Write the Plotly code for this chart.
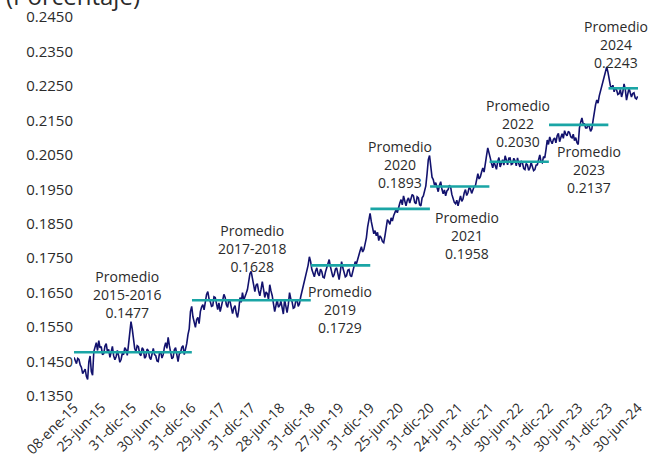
import pandas as pd
import plotly.graph_objects as go

# Weekly-ish readings of the rate, one list per calendar year
rate_2015 = [0.1462, 0.1450, 0.1444, 0.1459, 0.1456, 0.1440, 0.1433, 0.1415, 0.1421, 0.1428, 0.1407, 0.1398,
             0.1450, 0.1466, 0.1421, 0.1410, 0.1479, 0.1496, 0.1505, 0.1482, 0.1511, 0.1490, 0.1493, 0.1470,
             0.1473, 0.1495, 0.1502, 0.1478, 0.1485, 0.1462, 0.1479, 0.1494, 0.1467, 0.1455, 0.1464, 0.1482,
             0.1467, 0.1448, 0.1456, 0.1474, 0.1470, 0.1490, 0.1485, 0.1468, 0.1499, 0.1530, 0.1566, 0.1545]
rate_2016 = [0.1510, 0.1488, 0.1479, 0.1496, 0.1493, 0.1472, 0.1467, 0.1490, 0.1485, 0.1460, 0.1464, 0.1486,
             0.1482, 0.1462, 0.1456, 0.1478, 0.1488, 0.1470, 0.1467, 0.1452, 0.1450, 0.1474, 0.1479, 0.1460,
             0.1470, 0.1492, 0.1505, 0.1488, 0.1520, 0.1496, 0.1479, 0.1458, 0.1462, 0.1484, 0.1490, 0.1466,
             0.1450, 0.1472, 0.1476, 0.1491, 0.1496, 0.1470, 0.1485, 0.1502, 0.1528, 0.1545, 0.1595, 0.1610]
rate_2017 = [0.1580, 0.1562, 0.1549, 0.1572, 0.1578, 0.1560, 0.1595, 0.1608, 0.1615, 0.1600, 0.1630, 0.1645,
             0.1653, 0.1632, 0.1624, 0.1610, 0.1612, 0.1638, 0.1636, 0.1612, 0.1601, 0.1620, 0.1595, 0.1610,
             0.1624, 0.1645, 0.1636, 0.1615, 0.1607, 0.1630, 0.1624, 0.1600, 0.1589, 0.1605, 0.1612, 0.1590,
             0.1578, 0.1600, 0.1636, 0.1622, 0.1650, 0.1628, 0.1636, 0.1648, 0.1659, 0.1685, 0.1705, 0.1712]
rate_2018 = [0.1688, 0.1668, 0.1653, 0.1672, 0.1676, 0.1655, 0.1641, 0.1660, 0.1682, 0.1660, 0.1636, 0.1652,
             0.1647, 0.1630, 0.1673, 0.1655, 0.1641, 0.1618, 0.1595, 0.1612, 0.1630, 0.1608, 0.1612, 0.1625,
             0.1601, 0.1588, 0.1630, 0.1612, 0.1592, 0.1615, 0.1650, 0.1632, 0.1624, 0.1605, 0.1607, 0.1625,
             0.1630, 0.1610, 0.1618, 0.1638, 0.1653, 0.1665, 0.1682, 0.1695, 0.1711, 0.1730, 0.1754, 0.1740]
rate_2019 = [0.1717, 0.1705, 0.1696, 0.1712, 0.1722, 0.1705, 0.1699, 0.1718, 0.1711, 0.1695, 0.1693, 0.1710,
             0.1722, 0.1735, 0.1746, 0.1725, 0.1711, 0.1695, 0.1702, 0.1718, 0.1722, 0.1700, 0.1688, 0.1712,
             0.1740, 0.1722, 0.1711, 0.1696, 0.1699, 0.1715, 0.1717, 0.1700, 0.1696, 0.1710, 0.1722, 0.1740,
             0.1734, 0.1750, 0.1763, 0.1772, 0.1783, 0.1768, 0.1775, 0.1790, 0.1809, 0.1840, 0.1867, 0.1880]
rate_2020 = [0.1856, 0.1835, 0.1821, 0.1830, 0.1815, 0.1825, 0.1801, 0.1815, 0.1809, 0.1798, 0.1795, 0.1815,
             0.1838, 0.1862, 0.1856, 0.1848, 0.1867, 0.1858, 0.1873, 0.1880, 0.1891, 0.1882, 0.1902, 0.1910,
             0.1920, 0.1905, 0.1931, 0.1915, 0.1902, 0.1918, 0.1925, 0.1910, 0.1920, 0.1935, 0.1931, 0.1912,
             0.1908, 0.1928, 0.1925, 0.1905, 0.1902, 0.1925, 0.1931, 0.1945, 0.1960, 0.1995, 0.2036, 0.2048]
rate_2021 = [0.2007, 0.1985, 0.1978, 0.1962, 0.1969, 0.1955, 0.1943, 0.1962, 0.1972, 0.1950, 0.1937, 0.1948,
             0.1931, 0.1945, 0.1949, 0.1962, 0.1957, 0.1935, 0.1920, 0.1912, 0.1908, 0.1918, 0.1902, 0.1920,
             0.1931, 0.1915, 0.1922, 0.1940, 0.1949, 0.1932, 0.1940, 0.1955, 0.1951, 0.1938, 0.1946, 0.1958,
             0.1960, 0.1975, 0.1995, 0.1980, 0.1986, 0.2000, 0.2012, 0.2000, 0.2030, 0.2048, 0.2070, 0.2058]
rate_2022 = [0.2041, 0.2025, 0.2012, 0.2030, 0.2021, 0.2008, 0.2030, 0.2042, 0.2015, 0.2028, 0.2036, 0.2020,
             0.2047, 0.2035, 0.2021, 0.2040, 0.2041, 0.2022, 0.2024, 0.2040, 0.2033, 0.2018, 0.2041, 0.2025,
             0.2015, 0.2032, 0.2027, 0.2010, 0.2007, 0.2025, 0.2021, 0.2005, 0.2012, 0.2028, 0.2018, 0.2004,
             0.2007, 0.2020, 0.2021, 0.2035, 0.2050, 0.2030, 0.2027, 0.2045, 0.2041, 0.2065, 0.2093, 0.2080]
rate_2023 = [0.2102, 0.2090, 0.2082, 0.2095, 0.2099, 0.2085, 0.2105, 0.2112, 0.2088, 0.2100, 0.2111, 0.2098,
             0.2120, 0.2110, 0.2105, 0.2118, 0.2114, 0.2102, 0.2099, 0.2110, 0.2091, 0.2100, 0.2085, 0.2080,
             0.2128, 0.2145, 0.2157, 0.2140, 0.2140, 0.2128, 0.2128, 0.2138, 0.2131, 0.2118, 0.2125, 0.2150,
             0.2180, 0.2195, 0.2209, 0.2200, 0.2221, 0.2235, 0.2244, 0.2260, 0.2273, 0.2290, 0.2305, 0.2290]
rate_2024 = [0.2267, 0.2250, 0.2244, 0.2252, 0.2233, 0.2245, 0.2238, 0.2225, 0.2227, 0.2240, 0.2218, 0.2232,
             0.2256, 0.2240, 0.2209, 0.2225, 0.2244, 0.2230, 0.2218, 0.2228, 0.2230, 0.2215, 0.2212, 0.2220]

rate = (rate_2015 + rate_2016 + rate_2017 + rate_2018 + rate_2019 +
        rate_2020 + rate_2021 + rate_2022 + rate_2023 + rate_2024)
dates = pd.date_range("2015-01-08", "2024-06-28", periods=len(rate))

# Period averages
period_names = ["2015-2016", "2017-2018", "2019", "2020", "2021", "2022", "2023", "2024"]
period_start = ["2015-01-08", "2017-01-01", "2019-01-01", "2020-01-01", "2021-01-01",
                "2022-01-01", "2023-01-01", "2024-01-01"]
period_end = ["2016-12-31", "2018-12-31", "2019-12-31", "2020-12-31", "2021-12-31",
              "2022-12-31", "2023-12-31", "2024-06-30"]
period_avg = [0.1477, 0.1628, 0.1729, 0.1893, 0.1958, 0.2030, 0.2137, 0.2243]

# Axis tick dates and labels
tick_dates = ["2015-01-08", "2015-06-25", "2015-12-31", "2016-06-30", "2016-12-31", "2017-06-29",
              "2017-12-31", "2018-06-28", "2018-12-31", "2019-06-27", "2019-12-31", "2020-06-25",
              "2020-12-31", "2021-06-24", "2021-12-31", "2022-06-30", "2022-12-31", "2023-06-30",
              "2023-12-31", "2024-06-30"]
tick_text = ["08-ene-15", "25-jun-15", "31-dic-15", "30-jun-16", "31-dic-16", "29-jun-17",
             "31-dic-17", "28-jun-18", "31-dic-18", "27-jun-19", "31-dic-19", "25-jun-20",
             "31-dic-20", "24-jun-21", "31-dic-21", "30-jun-22", "31-dic-22", "30-jun-23",
             "31-dic-23", "30-jun-24"]
y_ticks = [0.135, 0.145, 0.155, 0.165, 0.175, 0.185, 0.195, 0.205, 0.215, 0.225, 0.235, 0.245]

# Where each average label sits (centre of the text block)
label_x = ["2015-12-05", "2018-01-10", "2019-06-27", "2020-07-01", "2021-08-16",
           "2022-06-25", "2023-09-03", "2024-02-16"]
label_y = [0.1644, 0.1779, 0.1601, 0.2021, 0.1816, 0.2141, 0.2007, 0.2370]

FONT = "Open Sans"
NAVY = "#12126e"
TEAL = "#1aa5a5"
TEXT = "#2b2b2b"

fig = go.Figure()
fig.add_trace(go.Scatter(x=dates, y=rate, mode="lines",
                         line=dict(color=NAVY, width=1.6), showlegend=False))

for name, s, e, avg, lx, ly in zip(period_names, period_start, period_end, period_avg, label_x, label_y):
    fig.add_trace(go.Scatter(x=[s, e], y=[avg, avg], mode="lines",
                             line=dict(color=TEAL, width=2.6), showlegend=False))
    fig.add_annotation(x=lx, y=ly, xref="x", yref="y", showarrow=False,
                       text=f"Promedio<br>{name}<br>{avg:.4f}",
                       font=dict(family=FONT, size=14, color=TEXT),
                       xanchor="center", yanchor="middle", align="center")

fig.add_annotation(x=-0.124, y=1.009, xref="paper", yref="paper", showarrow=False,
                   text="(Porcentaje)", xanchor="left", yanchor="bottom",
                   font=dict(family=FONT, size=24, color=TEXT))

fig.update_layout(
    width=649, height=459,
    margin=dict(l=74, r=11, t=17, b=63),
    paper_bgcolor="white", plot_bgcolor="white",
    font=dict(family=FONT, size=13, color=TEXT),
    xaxis=dict(type="date", range=["2015-01-08", "2024-06-30"], automargin=False,
               tickmode="array", tickvals=tick_dates, ticktext=tick_text,
               tickangle=-45, showgrid=False, zeroline=False, showline=False,
               tickfont=dict(family=FONT, size=14, color=TEXT)),
    yaxis=dict(range=[0.135, 0.245], tickmode="array", tickvals=y_ticks, automargin=False,
               tickformat=".4f", showgrid=False, zeroline=False, showline=False,
               tickfont=dict(family=FONT, size=15, color=TEXT)),
)

fig.write_html("out.html")
